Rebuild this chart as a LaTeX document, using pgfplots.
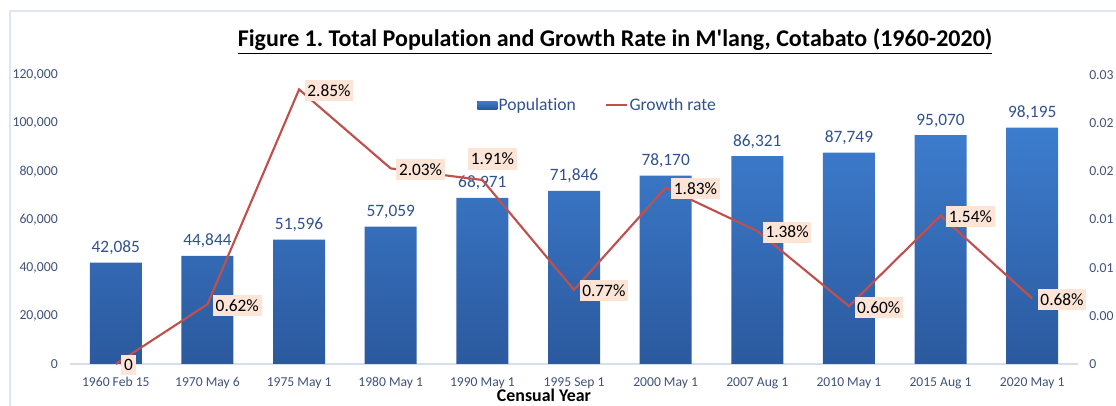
\documentclass[border=0pt]{standalone}
\usepackage{pgfplots}
\pgfplotsset{compat=1.18}
\usepackage{fontspec}
\setmainfont{Carlito}[Ligatures={NoCommon}, RawFeature={-liga;-clig;-dlig}]
\frenchspacing
\definecolor{barTop}{RGB}{61,125,206}
\definecolor{barBot}{RGB}{43,89,158}
\definecolor{tickcol}{RGB}{64,82,120}
\definecolor{valcol}{RGB}{47,82,143}
\definecolor{lc}{RGB}{192,80,77}
\definecolor{lblfill}{RGB}{252,228,214}
\definecolor{axiscol}{RGB}{214,222,238}
\definecolor{bordercol}{RGB}{224,229,243}
\begin{document}
\begin{tikzpicture}
\useasboundingbox (0,0) rectangle (837pt,304.5pt);
\clip (0,0) rectangle (837pt,304.5pt);
\draw[bordercol, line width=1.1pt] (7.5pt,-5pt) -- (7.5pt,296.25pt) -- (845pt,296.25pt);
\node[anchor=base, inner sep=0pt, font=\fontsize{18}{22}\selectfont\bfseries] at (461.25pt,269.25pt)
  {\underline{Figure 1. Total Population and Growth Rate in M\textquotesingle lang, Cotabato (1960-2020)}};
\node[anchor=base, inner sep=0pt, font=\fontsize{13.4}{16}\selectfont\bfseries] at (408pt,3pt) {Censual Year};
\begin{axis}[
  at={(52.5pt,31.5pt)}, anchor=south west, scale only axis,
  width=756pt, height=216.75pt,
  xmin=-0.5, xmax=10.5, ymin=0, ymax=120000,
  scaled y ticks=false,
  xtick={0,...,10},
  xticklabels={1960 Feb 15,1970 May 6,1975 May 1,1980 May 1,1990 May 1,1995 Sep 1,2000 May 1,2007 Aug 1,2010 May 1,2015 Aug 1,2020 May 1},
  ytick={0,20000,40000,60000,80000,100000,120000},
  yticklabels={0,{20,000},{40,000},{60,000},{80,000},{100,000},{120,000}},
  axis x line*=bottom, axis y line*=left,
  x axis line style={draw=axiscol, line width=0.8pt, -},
  y axis line style={draw=none},
  major tick length=0pt,
  x tick label style={font=\fontsize{10.2}{12}\selectfont, text=tickcol, anchor=base, inner sep=0pt, yshift=-17.25pt},
  y tick label style={font=\fontsize{10.3}{12}\selectfont, text=tickcol, anchor=east, inner sep=0pt, xshift=-9pt},
]
\addplot[ybar, bar width=39pt, draw=none, top color=barTop, bottom color=barBot,
  nodes near coords, point meta=explicit symbolic,
  nodes near coords style={font=\fontsize{13}{15}\selectfont, text=valcol, anchor=base, inner sep=0pt, yshift=7.5pt}]
coordinates {
(0,42085) [42{,}085]
(1,44844) [44{,}844]
(2,51596) [51{,}596]
(3,57059) [57{,}059]
(4,68971) [68{,}971]
(5,71846) [71{,}846]
(6,78170) [78{,}170]
(7,86321) [86{,}321]
(8,87749) [87{,}749]
(9,95070) [95{,}070]
(10,98195) [98{,}195]
};
\end{axis}
\begin{axis}[
  at={(52.5pt,31.5pt)}, anchor=south west, scale only axis,
  width=756pt, height=216.75pt,
  xmin=-0.5, xmax=10.5, ymin=0, ymax=0.03,
  scaled y ticks=false,
  axis x line=none, axis y line*=right,
  y axis line style={draw=none},
  major tick length=0pt,
  ytick={0,0.005,0.01,0.015,0.02,0.025,0.03},
  yticklabels={0,0.00,0.01,0.01,0.02,0.02,0.03},
  y tick label style={font=\fontsize{10.3}{12}\selectfont, text=tickcol, anchor=west, inner sep=0pt, xshift=8.25pt},
  clip=false,
  legend columns=2,
  legend style={at={(0.4038,0.896)}, anchor=west, draw=none, fill=none, inner sep=0pt,
    font=\fontsize{13.2}{15}\selectfont, text=valcol,
    nodes={inner sep=1pt},
    /tikz/every even column/.append style={column sep=21pt}},
]
\addlegendimage{legend image code/.code={\fill[top color=barTop,bottom color=barBot,draw=none] (0pt,-3pt) rectangle (15pt,3pt);}}
\addlegendentry{Population}
\addplot[lc, line width=1.6pt, mark=none,
  legend image code/.code={\draw[lc, line width=1.2pt] (0pt,0pt) -- (16pt,0pt);}]
coordinates {(0,0) (1,0.0062) (2,0.0285) (3,0.0203) (4,0.0191) (5,0.0077) (6,0.0183) (7,0.0138) (8,0.0060) (9,0.0154) (10,0.0068)};
\addlegendentry{Growth rate}
\addplot[forget plot, draw=none, mark=none, nodes near coords, point meta=explicit symbolic,
  nodes near coords style={font=\fontsize{13}{15}\selectfont, text=black, fill=lblfill, anchor=west, inner xsep=2pt, inner ysep=3.4pt, xshift=4pt, yshift=-0.75pt}]
coordinates {(0,0) [0] (1,0.0062) [0.62\%] (2,0.0285) [2.85\%] (3,0.0203) [2.03\%] (5,0.0077) [0.77\%] (6,0.0183) [1.83\%] (7,0.0138) [1.38\%] (8,0.0060) [0.60\%] (9,0.0154) [1.54\%] (10,0.0068) [0.68\%]};
\addplot[forget plot, draw=none, mark=none, nodes near coords, point meta=explicit symbolic,
  nodes near coords style={font=\fontsize{13}{15}\selectfont, text=black, fill=lblfill, anchor=center, inner xsep=2pt, inner ysep=3.4pt, xshift=7.5pt, yshift=15.75pt}]
coordinates {(4,0.0191) [1.91\%]};
\end{axis}
\end{tikzpicture}
\end{document}
